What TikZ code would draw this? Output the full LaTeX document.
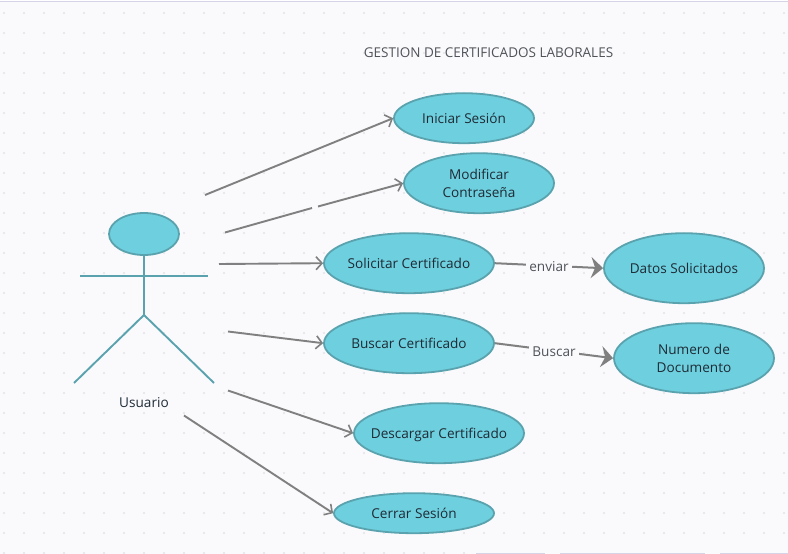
\documentclass[tikz,border=0pt]{standalone}
\usepackage{fontspec}
\setmainfont{Open Sans}
\usetikzlibrary{shapes.geometric,arrows.meta}
\definecolor{bgc}{HTML}{FAFAFD}
\definecolor{fillc}{HTML}{6ECFDE}
\definecolor{edgec}{HTML}{5AA3AE}
\definecolor{linec}{HTML}{808080}
\definecolor{dotc}{HTML}{E4E4E8}
\definecolor{textc}{HTML}{1E2B36}
\definecolor{labelc}{HTML}{4F5357}
\definecolor{framec}{HTML}{D6D3E6}
\tikzset{
  usecase/.style={ellipse,draw=edgec,fill=fillc,line width=1.8pt,inner ysep=0pt,inner xsep=-16pt,align=center,text=textc,font=\fontsize{13.6}{18}\selectfont},
  oneline/.style={text height=10pt,text depth=0pt},
  actorline/.style={draw=edgec,line width=1.9pt},
  conn/.style={draw=linec,line width=1.9pt,-{Straight Barb[length=6pt,width=13pt,line width=1.6pt]}},
  plain/.style={draw=linec,line width=1.9pt},
  strong/.style={draw=linec,line width=2pt,-{Stealth[length=12pt,width=21pt,inset=4pt]}},
  edgelabel/.style={fill=bgc,text=labelc,inner sep=3pt,yshift=-0.8pt,font=\fontsize{13.6}{15}\selectfont},
  plaintext/.style={text=textc,inner sep=0pt,font=\fontsize{13.6}{15}\selectfont}
}
\begin{document}
\begin{tikzpicture}[x=1pt,y=-1pt]
\useasboundingbox (0,0) rectangle (788,554);
\fill[white] (0,0) rectangle (788,554);
\fill[bgc] (0,2) rectangle (788,554);
\draw[framec,line width=1pt] (0,1.5) -- (788,1.5);
\foreach \yy in {13,33,...,533}
  \foreach \xx in {4,24,...,784}
    \fill[dotc] (\xx,\yy) circle (1.1pt);
\foreach \xx in {4,24,...,464}
  \fill[dotc] (\xx,553) circle (1.1pt);
\foreach \a/\b in {476/545,560/705,720/788}
  \draw[framec,line width=1pt] (\a,553.5) -- (\b,553.5);

\node[text=labelc,inner sep=0pt,font=\fontsize{13.5}{15}\selectfont] (title) at (488.5,52.7) {GESTION DE CERTIFICADOS LABORALES};

\node[usecase,oneline,minimum width=140pt,minimum height=50pt] (ini) at (464,118.2) {Iniciar Sesión};
\node[usecase,minimum width=150pt,minimum height=60pt] (mod) at (479,183.2) {Modificar\\Contraseña};
\node[usecase,oneline,minimum width=170pt,minimum height=60pt] (sol) at (409,263.2) {Solicitar Certificado};
\node[usecase,oneline,minimum width=170pt,minimum height=60pt] (bus) at (409,343.2) {Buscar Certificado};
\node[usecase,oneline,minimum width=170pt,minimum height=60pt] (des) at (439,433.2) {Descargar Certificado};
\node[usecase,oneline,minimum width=160pt,minimum height=40pt] (cer) at (414,513.2) {Cerrar Sesión};
\node[usecase,oneline,minimum width=160pt,minimum height=70pt] (dat) at (684,268.2) {Datos Solicitados};
\node[usecase,minimum width=160pt,minimum height=70pt] (num) at (694,358.2) {Numero de\\Documento};

% actor
\node[ellipse,draw=edgec,fill=fillc,line width=1.8pt,inner sep=0pt,minimum width=70pt,minimum height=42pt] (head) at (144,234) {};
\coordinate (hip) at (144,315);
\coordinate (armL) at (80,276);
\coordinate (armR) at (208,276);
\coordinate (legL) at (74,383);
\coordinate (legR) at (214,383);
\draw[actorline] (head.south) -- (hip);
\draw[actorline] (armL) -- (armR);
\draw[actorline] (legL) -- (hip) -- (legR);
\node[plaintext] (usr) at (144,403) {Usuario};

% connectors
\coordinate (c1) at (205,195);
\coordinate (c2) at (225,232.5);
\coordinate (g1) at (312,208);
\coordinate (g2) at (318,206.5);
\coordinate (c3) at (219,264);
\coordinate (c4) at (228,331.5);
\coordinate (c5) at (228,390.5);
\coordinate (c6) at (184,415.5);
\draw[conn] (c1) -- (ini.west);
\draw[plain] (c2) -- (g1);
\draw[conn] (g2) -- (mod.west);
\draw[conn] (c3) -- (sol.west);
\draw[conn] (c4) -- (bus.west);
\draw[conn] (c5) -- (des.west);
\draw[conn] (c6) -- (cer.west);
\draw[strong] (sol.east) -- node[edgelabel,pos=0.5] {enviar} (dat.west);
\draw[strong] (bus.east) -- node[edgelabel,pos=0.5] {Buscar} (num.west);
\end{tikzpicture}
\end{document}
